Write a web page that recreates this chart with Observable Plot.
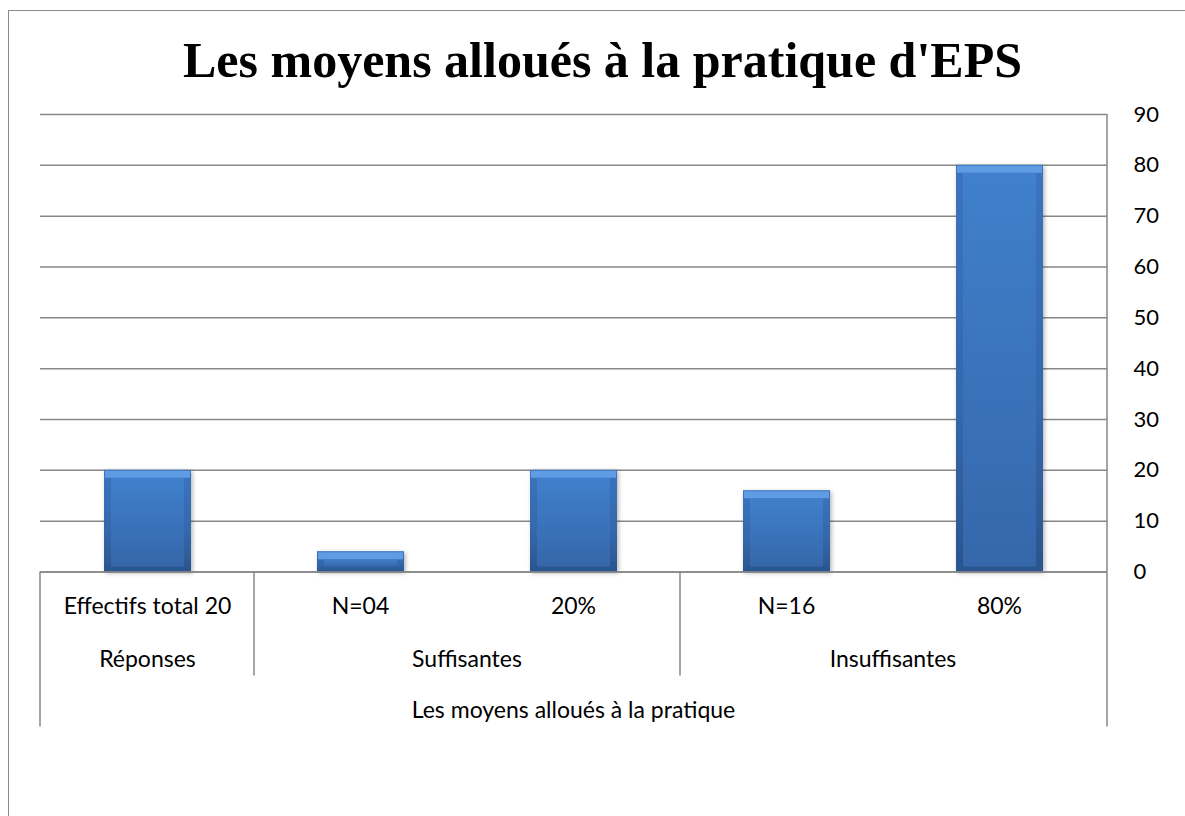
<!DOCTYPE html>
<html>
<head>
<meta charset="utf-8">
<script src="https://cdn.jsdelivr.net/npm/d3@7"></script>
<script src="https://cdn.jsdelivr.net/npm/@observablehq/plot@0.6"></script>
<style>
  html, body { margin: 0; padding: 0; background: #fff; width: 1185px; height: 816px; overflow: hidden; }
  #frame { position: absolute; left: 8px; top: 10px; width: 1200px; height: 840px;
           border-left: 1.5px solid #8a8a8a; border-top: 1.5px solid #8a8a8a; }
  #title { position: absolute; left: 0; width: 1205px; top: 35px; text-align: center;
           font-family: "Liberation Serif", "DejaVu Serif", serif; font-weight: bold;
           font-size: 50px; line-height: 1; color: #000; white-space: nowrap; }
  #chart { position: absolute; left: 0; top: 0; }
</style>
</head>
<body>
<div id="frame"></div>
<div id="title">Les moyens alloués à la pratique d'EPS</div>
<div id="chart"></div>
<script>
// ---- data ----
const categories = ["Effectifs total 20", "N=04", "20%", "N=16", "80%"];
const values = [20, 4, 20, 16, 80];
const groups = ["Réponses", "Suffisantes", "Suffisantes", "Insuffisantes", "Insuffisantes"];
const axisTitle = "Les moyens alloués à la pratique";
const yTicks = [0, 10, 20, 30, 40, 50, 60, 70, 80, 90];

const data = categories.map((c, i) => ({category: c, value: values[i], group: groups[i]}));

const gray = "#878787";
const labelFont = "Lato, 'Noto Sans', sans-serif";
const labelSize = 23;

function tableMark(index, scales, vals, dims) {
  const x = scales.x;
  const bw = x.bandwidth();
  const left = dims.marginLeft;
  const right = dims.width - dims.marginRight;
  const top = dims.marginTop;
  const y0 = dims.height - dims.marginBottom;
  const g = d3.create("svg:g");
  const line = (x1, y1, x2, y2) => g.append("line")
    .attr("x1", x1).attr("y1", y1).attr("x2", x2).attr("y2", y2)
    .attr("stroke", gray).attr("stroke-width", 1.5);
  // right value axis line
  line(right, top, right, y0);
  // outer verticals of the category table
  line(left, y0, left, y0 + 155);
  line(right, y0, right, y0 + 155);
  // group runs
  const runs = [];
  groups.forEach((gname, i) => {
    if (runs.length && runs[runs.length - 1].name === gname) runs[runs.length - 1].end = i;
    else runs.push({name: gname, start: i, end: i});
  });
  const label = (t, xx, yy) => g.append("text").text(t)
    .attr("x", xx).attr("y", yy)
    .attr("text-anchor", "middle").attr("font-family", labelFont)
    .attr("font-size", labelSize).attr("fill", "#000");
  runs.forEach((r, k) => {
    const x1 = x(categories[r.start]);
    const x2 = x(categories[r.end]) + bw;
    if (k > 0) line(x1, y0, x1, y0 + 104);
    label(r.name, (x1 + x2) / 2, y0 + 95);
  });
  // category labels
  categories.forEach(c => label(c, x(c) + bw / 2, y0 + 42));
  // axis title
  label(axisTitle, (left + right) / 2, y0 + 146);
  return g.node();
}

const chart = Plot.plot({
  width: 1185,
  height: 816,
  marginTop: 114,
  marginBottom: 244.5,
  marginLeft: 40,
  marginRight: 78,
  x: {domain: categories, padding: 0, axis: null},
  y: {domain: [0, 90], axis: null},
  style: {fontFamily: labelFont, background: "transparent", color: "#000"},
  marks: [
    Plot.gridY(yTicks, {stroke: gray, strokeOpacity: 1, strokeWidth: 1.5}),
    Plot.axisY(yTicks, {anchor: "right", tickSize: 0, tickPadding: 26, fontSize: 22,
                        label: null, fill: "#000", textAnchor: "start"}),
    Plot.barY(data, {x: "category", y: "value", fill: "url(#barOuter)", insetLeft: 63, insetRight: 63}),
    Plot.tickY(data, {x: "category", y: "value", stroke: "#5f9ce3", strokeWidth: 7, dy: 4,
                      insetLeft: 64, insetRight: 64}),
    Plot.barY(data, {x: "category", y: "value", fill: "url(#barFace)", insetLeft: 70, insetRight: 70,
                     insetTop: 8, insetBottom: 5}),
    Plot.ruleY([0], {stroke: gray, strokeWidth: 1.5}),
    tableMark
  ]
});

// gradients and shadow for the bevelled bars
const svg = d3.select(chart);
const defs = svg.insert("defs", ":first-child");
function grad(id, stops) {
  const lg = defs.append("linearGradient").attr("id", id)
    .attr("x1", 0).attr("y1", 0).attr("x2", 0).attr("y2", 1);
  stops.forEach(([o, c]) => lg.append("stop").attr("offset", o).attr("stop-color", c));
}
grad("barOuter", [[0, "#3b74bf"], [0.6, "#3468ac"], [1, "#2b558e"]]);
grad("barFace", [[0, "#4080cc"], [1, "#3567aa"]]);
const filt = defs.append("filter").attr("id", "shadow")
  .attr("x", "-20%").attr("y", "-20%").attr("width", "140%").attr("height", "140%");
filt.append("feDropShadow").attr("dx", 1.5).attr("dy", 1.5).attr("stdDeviation", 2)
  .attr("flood-color", "#000").attr("flood-opacity", 0.3);
const barGroups = chart.querySelectorAll('g[aria-label="bar"]');
if (barGroups.length) barGroups[0].setAttribute("filter", "url(#shadow)");

document.getElementById("chart").appendChild(chart);
</script>
</body>
</html>
